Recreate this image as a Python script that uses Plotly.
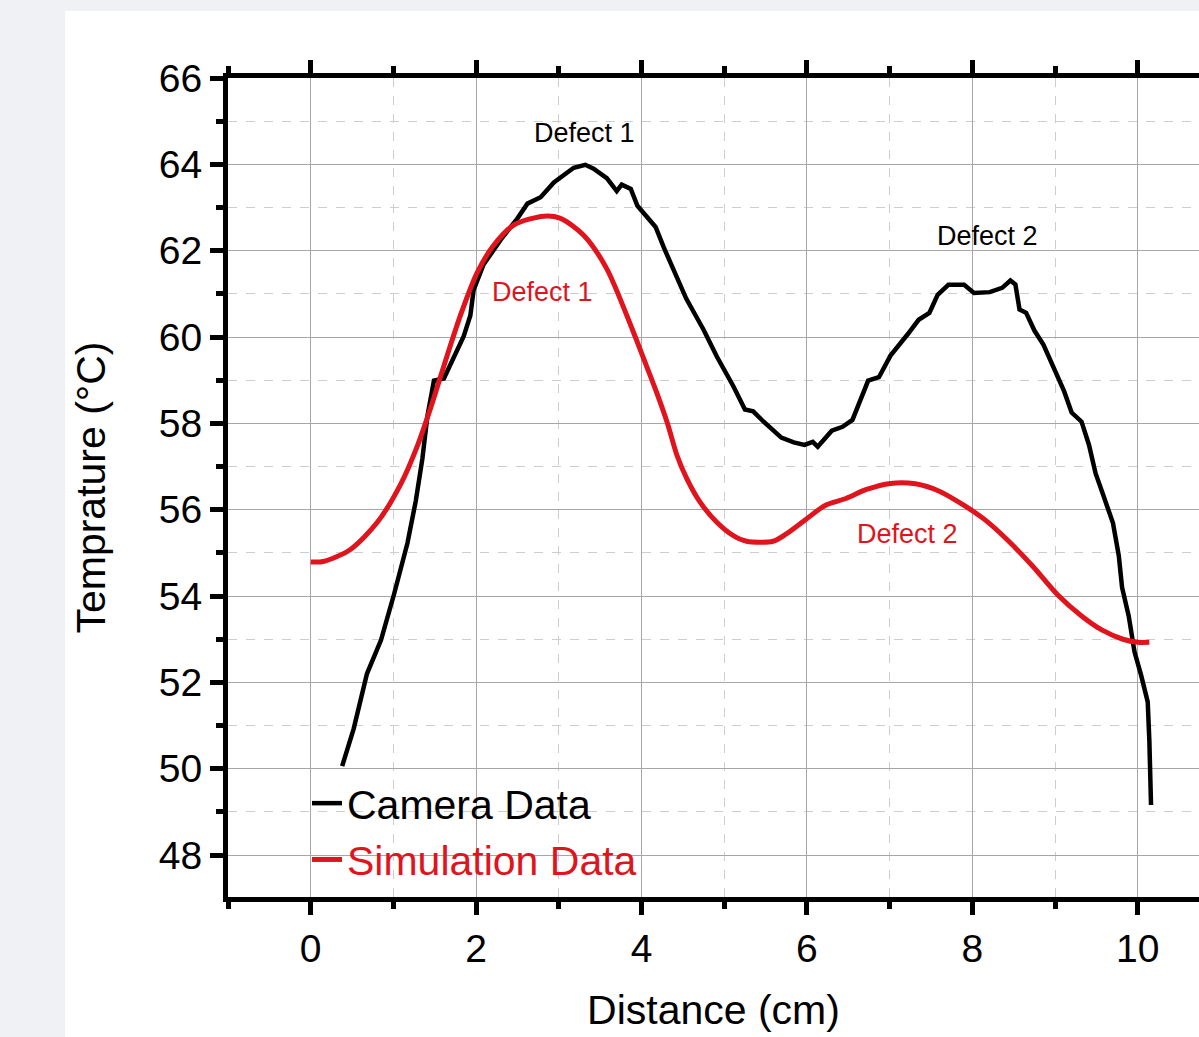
import plotly.graph_objects as go

# ---------------- data ----------------
camera_x = [0.38, 0.52, 0.68, 0.85, 1.01, 1.17, 1.27, 1.35, 1.41, 1.49, 1.61, 1.73, 1.85, 1.93,
            1.97, 2.09, 2.30, 2.50, 2.62, 2.78, 2.94, 3.18, 3.32, 3.42, 3.58, 3.70, 3.76, 3.87,
            3.95, 4.17, 4.27, 4.54, 4.75, 4.91, 5.11, 5.25, 5.35, 5.47, 5.59, 5.69, 5.84, 5.97,
            6.07, 6.13, 6.30, 6.43, 6.55, 6.64, 6.74, 6.87, 7.01, 7.22, 7.35, 7.48, 7.58, 7.71,
            7.90, 8.02, 8.21, 8.36, 8.46, 8.52, 8.57, 8.65, 8.75, 8.86, 8.99, 9.11, 9.20, 9.32,
            9.41, 9.49, 9.58, 9.70, 9.77, 9.81, 9.89, 9.96, 10.04, 10.12, 10.14, 10.16]
camera_y = [50.06, 50.93, 52.20, 52.98, 54.06, 55.23, 56.20, 57.18, 58.16, 58.99, 59.04, 59.53, 60.02, 60.50,
            61.09, 61.68, 62.26, 62.75, 63.09, 63.24, 63.58, 63.92, 63.99, 63.90, 63.68, 63.38, 63.53, 63.43,
            63.04, 62.55, 62.07, 60.89, 60.17, 59.55, 58.86, 58.32, 58.28, 58.05, 57.86, 57.67, 57.56, 57.50,
            57.57, 57.46, 57.83, 57.92, 58.08, 58.50, 58.99, 59.07, 59.57, 60.07, 60.40, 60.56, 60.98, 61.21,
            61.21, 61.02, 61.04, 61.14, 61.31, 61.22, 60.64, 60.56, 60.15, 59.82, 59.24, 58.74, 58.25, 58.04,
            57.50, 56.84, 56.35, 55.69, 54.94, 54.20, 53.54, 52.71, 52.17, 51.55, 50.64, 49.16]

sim_x = [0.00, 0.15, 0.48, 0.81, 1.09, 1.29, 1.45, 1.61, 1.81, 2.01, 2.21, 2.46, 2.82, 3.02, 3.30,
         3.58, 3.89, 4.03, 4.17, 4.31, 4.43, 4.55, 4.71, 4.91, 5.11, 5.27, 5.59, 5.75, 5.99, 6.22,
         6.47, 6.72, 7.01, 7.31, 7.60, 7.90, 8.15, 8.44, 8.73, 9.03, 9.32, 9.57, 9.82, 10.00, 10.14]
sim_y = [54.79, 54.80, 55.08, 55.72, 56.60, 57.48, 58.36, 59.33, 60.50, 61.48, 62.12, 62.60, 62.80, 62.75, 62.36,
         61.58, 60.17, 59.48, 58.78, 58.02, 57.25, 56.71, 56.17, 55.71, 55.40, 55.27, 55.27, 55.44, 55.78, 56.10,
         56.26, 56.47, 56.61, 56.60, 56.43, 56.10, 55.77, 55.27, 54.69, 54.03, 53.54, 53.21, 53.00, 52.93, 52.93]

series_names = ["Camera Data", "Simulation Data"]
x_title = "Distance (cm)"
y_title = "Temprature (°C)"

label_text = ["Defect 1", "Defect 2", "Defect 1", "Defect 2"]
label_x = [3.31, 8.18, 2.80, 7.21]
label_y = [64.72, 62.34, 61.04, 55.44]

x_ticks = [0, 2, 4, 6, 8, 10]
y_ticks = [48, 50, 52, 54, 56, 58, 60, 62, 64, 66]

# ---------------- style ----------------
RED = "#e0141c"
FONT = "Liberation Sans, Arial, sans-serif"
W, H = 1199, 1037
ML, MR, MT, MB = 228, 0, 78, 140

fig = go.Figure()
fig.add_trace(go.Scatter(x=camera_x, y=camera_y, mode="lines",
                         name=series_names[0],
                         line=dict(color="black", width=4.5)))
fig.add_trace(go.Scatter(x=sim_x, y=sim_y, mode="lines",
                         name=f"<span style='color:{RED}'>{series_names[1]}</span>",
                         line=dict(color=RED, width=5, shape="spline", smoothing=0.8)))

colors = ["black", "black", RED, RED]
for t, x, y, c in zip(label_text, label_x, label_y, colors):
    fig.add_annotation(x=x, y=y, text=t, showarrow=False,
                       font=dict(family=FONT, size=27, color=c))

pw = W - ML - MR
ph = H - MT - MB
# white panel on a light grey page
fig.add_shape(type="rect", xref="paper", yref="paper", layer="below",
              x0=(65 - ML) / pw, x1=1.2, y0=-0.3, y1=(H - MB - 11) / ph,
              fillcolor="white", line=dict(width=0))

fig.update_layout(
    width=W, height=H,
    margin=dict(l=ML, r=MR, t=MT, b=MB, pad=0),
    paper_bgcolor="#eff1f5",
    plot_bgcolor="white",
    font=dict(family=FONT, color="black", size=39),
    showlegend=True,
    legend=dict(x=(307 - ML) / pw, xanchor="left", y=(H - MB - 770) / ph, yanchor="top",
                bgcolor="rgba(0,0,0,0)", borderwidth=0,
                font=dict(family=FONT, size=41, color="black"),
                tracegroupgap=0, itemwidth=30),
)

fig.update_xaxes(
    range=[-1, 10.74], tickvals=x_ticks,
    showline=True, linecolor="black", linewidth=5, mirror="ticks",
    ticks="outside", ticklen=13, tickwidth=5, tickcolor="black",
    showgrid=True, gridcolor="#a6a6a6", gridwidth=1,
    zeroline=False,
    tickfont=dict(family=FONT, size=39),
    title=dict(text=x_title, font=dict(family=FONT, size=41), standoff=28),
    minor=dict(dtick=1, tick0=-1, ticks="outside", ticklen=7, tickwidth=5, tickcolor="black",
               showgrid=True, gridcolor="#cdcdcd", gridwidth=1, griddash="dash"),
)
fig.update_yaxes(
    range=[47.03, 66], tickvals=y_ticks,
    showline=True, linecolor="black", linewidth=5, mirror=False,
    ticks="outside", ticklen=13, tickwidth=5, tickcolor="black",
    showgrid=True, gridcolor="#a6a6a6", gridwidth=1,
    zeroline=False,
    tickfont=dict(family=FONT, size=39),
    title=dict(text=y_title, font=dict(family=FONT, size=41), standoff=42),
    minor=dict(dtick=1, tick0=47, ticks="outside", ticklen=7, tickwidth=5, tickcolor="black",
               showgrid=True, gridcolor="#cdcdcd", gridwidth=1, griddash="dash"),
)

fig.write_html("out.html")
